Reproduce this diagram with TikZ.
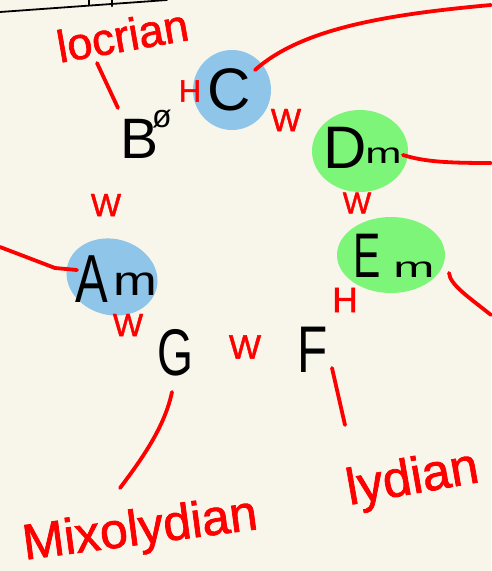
\documentclass[tikz,border=0pt]{standalone}
\usepackage{fontspec}
\setmainfont{Liberation Sans}
\newfontfamily\inkfont[FakeBold=1.5]{Liberation Sans}
\definecolor{bgc}{RGB}{248,246,234}
\definecolor{redink}{RGB}{255,0,0}
\definecolor{blueblob}{RGB}{142,197,232}
\definecolor{greenblob}{RGB}{125,245,120}
\tikzset{
  redline/.style={draw=redink,line width=3.8pt,line cap=round,line join=round},
  blackline/.style={draw=black,line width=1.8pt,line cap=round},
  note/.style={text=black,inner sep=0pt,anchor=base west},
  rednote/.style={text=redink,inner sep=0pt,font=\inkfont}
}
\newcommand{\fs}[1]{\fontsize{#1}{#1}\selectfont}
\begin{document}
\begin{tikzpicture}[x=1pt,y=-1pt]
\useasboundingbox (0,0) rectangle (491,571);
\fill[bgc] (0,0) rectangle (491,571);
% top black line
\coordinate (tl0) at (0,12);
\coordinate (tl1) at (167,0);
\draw[blackline] (tl0) -- (tl1);
\coordinate (tk1a) at (89,0); \coordinate (tk1b) at (89,5);
\coordinate (tk2a) at (112,0); \coordinate (tk2b) at (112,6);
\draw[blackline] (tk1a) -- (tk1b);
\draw[blackline,line width=2.6pt] (tk2a) -- (tk2b);
% blobs
\fill[blueblob] (232,90) ellipse [x radius=39,y radius=40];
\fill[greenblob] (360,151) ellipse [x radius=48,y radius=41];
\fill[blueblob,rotate around={-15:(112,277)}] (112,277) ellipse [x radius=46,y radius=38];
\fill[greenblob] (391,255) ellipse [x radius=54,y radius=38];
% black letters
\node[note] (B) at (120,158) {\fs{57}B};
\node[text=black,inner sep=0pt] (bdim) at (162,119) {\fs{32}ø};
\node[note] (C) at (207,110) {\fs{60}C};
\node[note] (D) at (323,168) {\fs{60}D};
\node[note,xscale=1.5] (Dm) at (365,163) {\fs{29}m};
\node[note,xscale=0.72] (A) at (75,302) {\fs{68}A};
\node[note,xscale=1.25] (Am) at (113,295) {\fs{42}m};
\node[note,xscale=0.65] (E) at (353,277) {\fs{63}E};
\node[note,xscale=1.7] (Em) at (393,277) {\fs{29}m};
\node[note,xscale=0.7] (G) at (157,375) {\fs{66}G};
\node[note,xscale=0.75] (F) at (297,372) {\fs{66}F};
% red interval marks
\node[rednote] (h1) at (190,91) {\fs{31}H};
\node[rednote] (h2) at (345,300) {\fs{35}H};
\node[rednote] (w1) at (286,120) {\fs{32}W};
\node[rednote] (w2) at (106,205) {\fs{32}W};
\node[rednote] (w3) at (357,203) {\fs{30}W};
\node[rednote] (w4) at (128,325) {\fs{32}W};
\node[rednote] (w5) at (245,347) {\fs{34}W};
% mode labels
\node[rednote,anchor=west,rotate=10] (loc) at (57,47) {\fs{45}locrian};
\node[rednote,anchor=west,rotate=7.5] (mix) at (23,547) {\fs{50}Mixolydian};
\node[rednote,anchor=west,rotate=10] (lyd) at (347,492) {\fs{51}lydian};
% red connectors
\coordinate (locEnd) at (97,63);
\coordinate (bTop) at (118,108);
\draw[redline] (locEnd) -- (bTop);
\coordinate (cEdge) at (255,70);
\coordinate (cOut) at (491,5);
\draw[redline] (cEdge) .. controls (300,30) and (380,15) .. (cOut);
\coordinate (dEdge) at (403,155);
\coordinate (dOut) at (491,163);
\draw[redline] (dEdge) .. controls (425,162) and (450,163) .. (dOut);
\coordinate (aOut) at (0,247);
\coordinate (aEdge) at (77,270);
\draw[redline] (aOut) -- (55,268) -- (aEdge);
\coordinate (eEdge) at (449,273);
\coordinate (eOut) at (491,315);
\draw[redline] (eEdge) .. controls (450,285) and (470,298) .. (eOut);
\coordinate (gBot) at (172,392);
\coordinate (mixTop) at (120,488);
\draw[redline] (gBot) .. controls (165,425) and (145,455) .. (mixTop);
\coordinate (fBot) at (332,368);
\coordinate (lydTop) at (345,425);
\draw[redline] (fBot) -- (lydTop);
\end{tikzpicture}
\end{document}
